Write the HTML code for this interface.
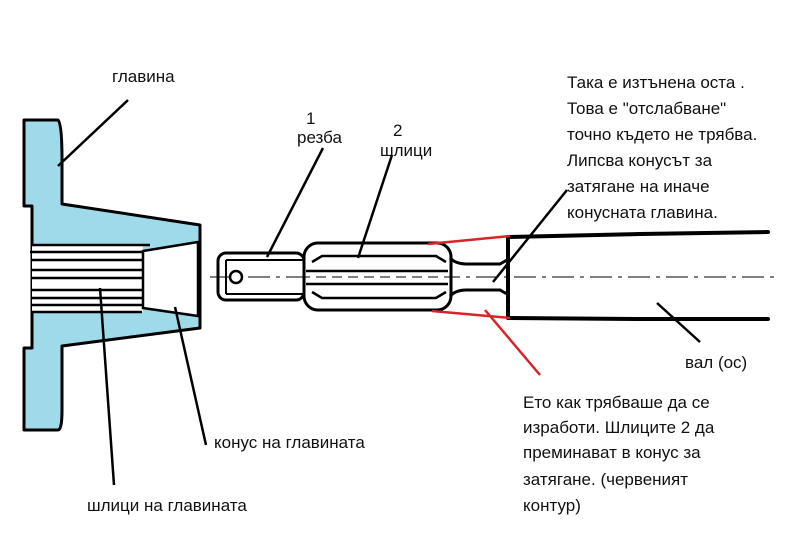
<!DOCTYPE html>
<html><head><meta charset="utf-8"><style>
html,body{margin:0;padding:0;background:#fff;}
svg{display:block;}
text{font-family:"Liberation Sans","DejaVu Sans",sans-serif;font-size:17px;fill:#111;}
</style></head><body>
<svg width="807" height="536" viewBox="0 0 807 536" xmlns="http://www.w3.org/2000/svg">
<path d="M24,120 L58,120 Q62,124 62,160 L62,204 L200,225 L200,328 L62,346 L62,410 Q62,430 58,430 L24,430 L24,348 L32,348 L32,206 L24,206 Z" fill="#9fdaea" stroke="#000" stroke-width="3" stroke-linejoin="round"/>
<rect x="32" y="245" width="111" height="67" fill="#fff"/>
<g stroke="#000" stroke-width="2.5">
<line x1="32" y1="245" x2="150" y2="245"/>
<line x1="30" y1="252" x2="142" y2="252"/>
<line x1="32" y1="260" x2="142" y2="260"/>
<line x1="32" y1="270" x2="142" y2="270"/>
<line x1="32" y1="278" x2="142" y2="278"/>
<line x1="32" y1="290" x2="142" y2="290"/>
<line x1="32" y1="298" x2="142" y2="298"/>
<line x1="32" y1="305" x2="142" y2="305"/>
<line x1="32" y1="312" x2="142" y2="312"/>
</g>
<path d="M143,251 L198,242 L198,316 L143,308 Z" fill="#fff" stroke="#000" stroke-width="2.5"/>
<line x1="210" y1="277" x2="778" y2="277" stroke="#000" stroke-width="1" stroke-dasharray="22,6,4,6"/>
<rect x="218" y="253" width="86" height="47" rx="8" fill="none" stroke="#000" stroke-width="3"/>
<line x1="226" y1="260" x2="304" y2="260" stroke="#000" stroke-width="2"/>
<line x1="226" y1="294" x2="304" y2="294" stroke="#000" stroke-width="2"/>
<line x1="226" y1="260" x2="226" y2="294" stroke="#000" stroke-width="2"/>
<circle cx="236" cy="277" r="6" fill="#fff" stroke="#000" stroke-width="2.5"/>
<rect x="304" y="243" width="147" height="67" rx="14" fill="#fff" stroke="#000" stroke-width="3"/>
<g stroke="#000" stroke-width="2.5" fill="none">
<path d="M312,262 L322,256 L436,256 L446,262"/>
<path d="M312,292 L322,298 L436,298 L446,292"/>
<line x1="306" y1="271" x2="448" y2="271"/>
<line x1="306" y1="284" x2="448" y2="284"/>
</g>
<line x1="300" y1="277" x2="450" y2="277" stroke="#000" stroke-width="1" stroke-dasharray="10,6"/>
<path d="M450,258 Q456,264 466,264 L500,264 L507,260" fill="none" stroke="#000" stroke-width="3"/>
<path d="M450,296 Q456,290 466,290 L500,290 L507,294" fill="none" stroke="#000" stroke-width="3"/>
<g stroke="#000" stroke-width="4" stroke-linecap="round" fill="none">
<path d="M509,237 L640,234 L768,232"/>
<path d="M509,318 L640,319 L768,319"/>
<line x1="508" y1="237" x2="508" y2="318"/>
</g>
<g stroke="#d8232a" stroke-width="2.5">
<line x1="428" y1="244" x2="510" y2="236"/>
<line x1="432" y1="311" x2="510" y2="318"/>
<line x1="485" y1="310" x2="540" y2="375"/>
</g>
<g stroke="#000" stroke-width="2.5">
<line x1="58" y1="166" x2="128" y2="100"/>
<line x1="267" y1="257" x2="323" y2="148"/>
<line x1="358" y1="258" x2="392" y2="155"/>
<line x1="493" y1="282" x2="567" y2="190"/>
<line x1="657" y1="303" x2="700" y2="342"/>
<line x1="100" y1="288" x2="114" y2="485"/>
<line x1="175" y1="307" x2="206" y2="445"/>
</g>
<text x="112" y="82">главина</text>
<text x="306" y="124">1</text>
<text x="297" y="143">резба</text>
<text x="393" y="136">2</text>
<text x="380" y="156">шлици</text>
<text x="567" y="88">Така е изтънена оста .</text>
<text x="567" y="114">Това е "отслабване"</text>
<text x="567" y="140">точно където не трябва.</text>
<text x="567" y="166">Липсва конусът за</text>
<text x="567" y="192">затягане на иначе</text>
<text x="567" y="218">конусната главина.</text>
<text x="685" y="368">вал (ос)</text>
<text x="523" y="408">Ето как трябваше да се</text>
<text x="523" y="433">изработи. Шлиците 2 да</text>
<text x="523" y="458">преминават в конус за</text>
<text x="523" y="485">затягане. (червеният</text>
<text x="523" y="511">контур)</text>
<text x="214" y="448">конус на главината</text>
<text x="87" y="511">шлици на главината</text>
</svg>
</body></html>
